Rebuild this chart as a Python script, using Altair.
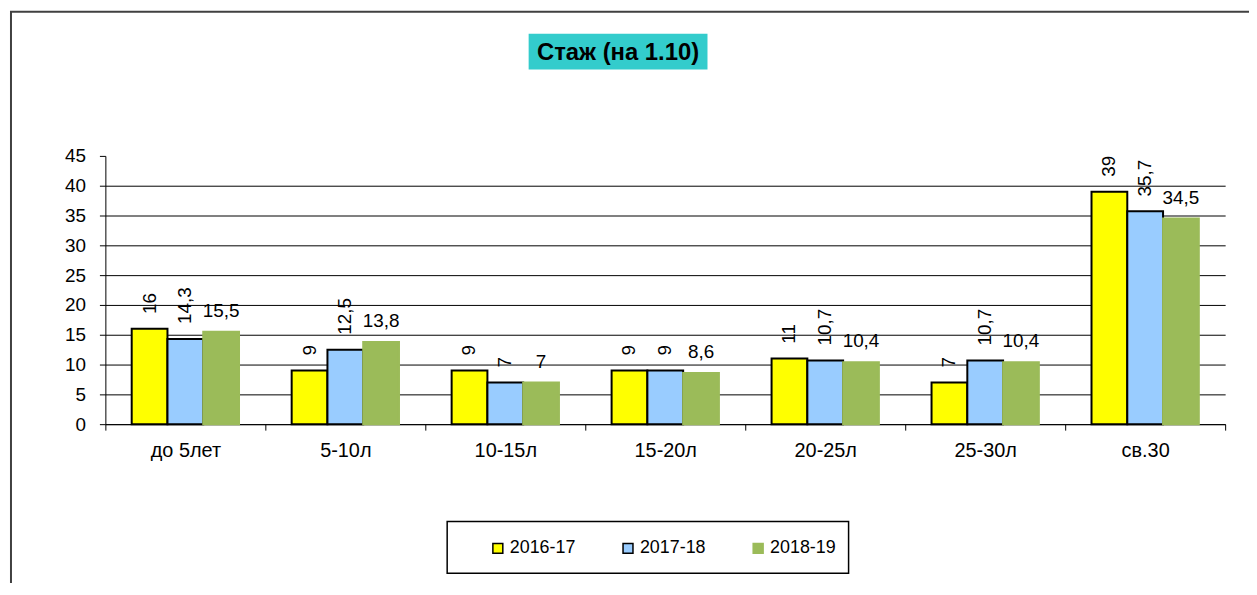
import altair as alt
import pandas as pd

categories = ["до 5лет", "5-10л", "10-15л", "15-20л", "20-25л", "25-30л", "св.30"]
series = ["2016-17", "2017-18", "2018-19"]
v2016 = [16, 9, 9, 9, 11, 7, 39]
v2017 = [14.3, 12.5, 7, 9, 10.7, 10.7, 35.7]
v2018 = [15.5, 13.8, 7, 8.6, 10.4, 10.4, 34.5]
y_ticks = [0, 5, 10, 15, 20, 25, 30, 35, 40, 45]
title_text = "Стаж (на 1.10)"

def fmt(v):
    s = ("%g" % v).replace(".", ",")
    return s

rows = []
for s, vals in zip(series, [v2016, v2017, v2018]):
    for c, v in zip(categories, vals):
        rows.append({"cat": c, "series": s, "value": v, "label": fmt(v)})
df = pd.DataFrame(rows)

FONT = "Liberation Sans"
fills = ["#FFFF00", "#99CCFF", "#9BBB59"]
strokes = ["#000000", "#000000", "#9BBB59"]

W, H = 1127, 270
PL, PT = 98, 147
SVG_W, SVG_H = 1249, 575

x_axis = alt.Axis(title=None, labelAngle=0, tickBand="extent", tickSize=6,
                  labelPadding=11, domainColor="black", tickColor="black",
                  labelColor="black", labelFont=FONT, labelFontSize=20,
                  grid=False, labelOverlap=False)
y_axis = alt.Axis(title=None, values=y_ticks, grid=True, gridColor="black",
                  gridWidth=1,
                  gridOpacity={"condition": {"test": "datum.value >= 45", "value": 0}, "value": 1},
                  tickSize=6, labelPadding=14, domainColor="black",
                  tickColor="black", labelColor="black", labelFont=FONT,
                  labelFontSize=19, labelOverlap=False)

x_enc = alt.X("cat:N", sort=categories,
              scale=alt.Scale(paddingInner=0, paddingOuter=0), axis=x_axis)
xo_enc = alt.XOffset("series:N", sort=series,
                     scale=alt.Scale(paddingInner=0, paddingOuter=0.736))
y_enc = alt.Y("value:Q",
              scale=alt.Scale(domain=[0, 45], nice=False, zero=True), axis=y_axis)

base = alt.Chart(df)

bars = base.mark_bar(strokeWidth=2, fillOpacity=1).encode(
    x=x_enc,
    xOffset=xo_enc,
    y=y_enc,
    fill=alt.Fill("series:N", sort=series,
                  scale=alt.Scale(domain=series, range=fills),
                  legend=alt.Legend(title=None, orient="none", legendX=386, legendY=386,
                                    direction="horizontal", symbolType="square",
                                    symbolSize=100, symbolStrokeWidth=1.5,
                                    labelFont=FONT, labelFontSize=18, labelColor="black",
                                    columnPadding=43, labelOffset=3, padding=0)),
    stroke=alt.Stroke("series:N", sort=series,
                      scale=alt.Scale(domain=series, range=strokes)),
)

rot_labels = base.transform_filter(
    alt.FieldOneOfPredicate(field="series", oneOf=series[:2])
).mark_text(angle=270, align="left", baseline="middle", dx=15, font=FONT,
            fontSize=19, color="black").encode(
    x=x_enc,
    xOffset=xo_enc,
    y=y_enc,
    text="label:N",
)

hor_labels = base.transform_filter(
    alt.FieldEqualPredicate(field="series", equal=series[2])
).mark_text(align="center", baseline="alphabetic", dy=-15, font=FONT,
            fontSize=19, color="black").encode(
    x=x_enc,
    xOffset=xo_enc,
    y=y_enc,
    text="label:N",
)

one = pd.DataFrame({"t": [title_text]})

frame = alt.Chart(one).mark_rect(fill="white", fillOpacity=0, stroke="#404040",
                                 strokeWidth=2).encode(
    x=alt.value(-95), x2=alt.value(1400), y=alt.value(-145), y2=alt.value(800))

title_box = alt.Chart(one).mark_rect(fill="#33CCCC").encode(
    x=alt.value(426), x2=alt.value(606), y=alt.value(-123), y2=alt.value(-87))

title_txt = alt.Chart(one).mark_text(font=FONT, fontSize=24, fontWeight="bold",
                                     color="black", align="center",
                                     baseline="middle").encode(
    x=alt.value(516), y=alt.value(-104), text="t:N")

legend_box = alt.Chart(one).mark_rect(fill="white", fillOpacity=0, stroke="black",
                                      strokeWidth=1.5).encode(
    x=alt.value(344), x2=alt.value(748), y=alt.value(368), y2=alt.value(420))

chart = alt.layer(frame, title_box, title_txt, legend_box, bars, rot_labels, hor_labels).properties(
    width=W, height=H,
    autosize=alt.AutoSizeParams(type="none"),
    padding={"left": PL, "top": PT, "right": SVG_W - PL - W, "bottom": SVG_H - PT - H},
    background="white",
).configure_view(stroke=None)

chart.save("out.html", embed_options={"renderer": "svg", "actions": False})
